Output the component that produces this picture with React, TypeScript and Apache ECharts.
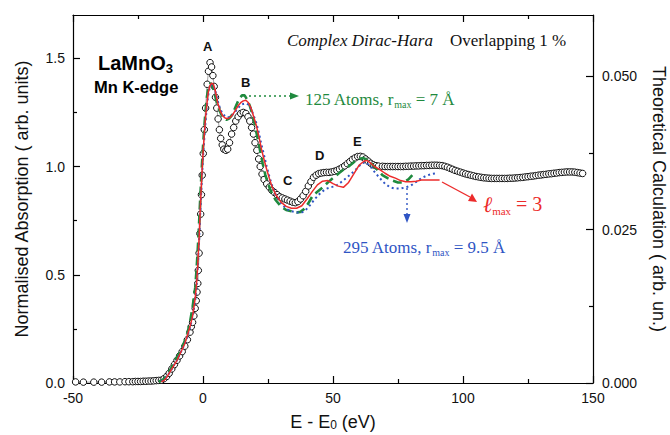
import React, { useEffect, useRef } from "react";
import * as echarts from "echarts";

// Experimental spectrum (E - E0 in eV, normalised absorption)
const expData: [number, number][] = [
  [-49, 0.005], [-46, 0.004], [-42, 0.004], [-39, 0.004], [-36, 0.005], [-34, 0.005], [-32, 0.005],
  [-30, 0.006], [-28.5, 0.006], [-27, 0.006], [-26, 0.007], [-25, 0.007], [-24, 0.007], [-23, 0.008],
  [-22, 0.008], [-21, 0.009], [-20, 0.009], [-19, 0.01], [-18, 0.011], [-17, 0.012], [-16, 0.013],
  [-15, 0.02], [-14, 0.03], [-13, 0.045], [-12, 0.065], [-11, 0.085], [-10, 0.105], [-9, 0.125],
  [-8, 0.145], [-7, 0.17], [-6, 0.2], [-5, 0.235], [-4.5, 0.26], [-4, 0.28], [-3.5, 0.31], [-3, 0.345],
  [-2.6, 0.38], [-2.3, 0.42], [-2, 0.46], [-1.8, 0.52], [-1.5, 0.6], [-1.2, 0.69], [-0.9, 0.78],
  [-0.6, 0.87], [-0.3, 0.96], [0.1, 1.06], [0.5, 1.17], [1, 1.27], [1.6, 1.38], [2.1, 1.44], [2.7, 1.48],
  [3.3, 1.46], [3.8, 1.42], [4.3, 1.37], [4.8, 1.32], [5.3, 1.27], [5.8, 1.22], [6.3, 1.17], [6.8, 1.13],
  [7.4, 1.1], [8, 1.08], [8.8, 1.075], [9.5, 1.08], [10.2, 1.11], [11, 1.15], [11.8, 1.18], [12.6, 1.21],
  [13.5, 1.23], [14.5, 1.245], [15.5, 1.25], [16.5, 1.245], [17.3, 1.23], [18, 1.21], [18.7, 1.18],
  [19.4, 1.15], [20, 1.11], [20.7, 1.075], [21.4, 1.035], [22, 1.0], [22.7, 0.965], [23.5, 0.94],
  [24.5, 0.92], [25.5, 0.905], [26.5, 0.89], [27.5, 0.88], [28.5, 0.87], [29.5, 0.86], [30.5, 0.855],
  [31.5, 0.85], [32.5, 0.845], [33.5, 0.84], [34.5, 0.835], [35.5, 0.833], [36.5, 0.838], [37.5, 0.85],
  [38.5, 0.865], [39.5, 0.885], [40.5, 0.91], [41.5, 0.93], [42.5, 0.95], [43.5, 0.96], [44.5, 0.967],
  [45.5, 0.97], [46.5, 0.972], [47.5, 0.973], [48.5, 0.973], [49.5, 0.975], [50.5, 0.978], [51.5, 0.982],
  [52.5, 0.988], [53.5, 0.995], [54.5, 1.003], [55.5, 1.013], [56.5, 1.023], [57.5, 1.033], [58.5, 1.04],
  [59.5, 1.046], [60.5, 1.047], [61.5, 1.044], [62.5, 1.035], [63.5, 1.025], [64.5, 1.015], [65.5, 1.008],
  [66.5, 1.004], [67.5, 1.002], [69, 1.001], [70, 1.0], [71, 1.0], [72, 1.0], [73, 1.0], [74, 1.0],
  [75, 1.0], [76, 1.0], [77, 1.0], [78, 1.001], [79, 1.001], [80, 1.002], [81, 1.002], [82, 1.003],
  [83, 1.003], [84, 1.004], [85, 1.004], [86, 1.005], [87, 1.005], [88, 1.006], [89, 1.006], [90, 1.006],
  [91, 1.005], [92, 1.004], [93, 1.001], [94, 0.997], [95, 0.992], [96, 0.987], [97, 0.982], [98, 0.978],
  [99, 0.974], [100, 0.97], [101, 0.966], [102, 0.963], [103, 0.96], [104, 0.957], [105, 0.954],
  [106, 0.952], [107, 0.95], [108, 0.948], [109, 0.947], [110, 0.946], [111, 0.945], [112, 0.945],
  [113, 0.945], [114, 0.945], [115, 0.945], [116, 0.945], [117, 0.945], [118, 0.946], [119, 0.946],
  [120, 0.947], [121, 0.948], [122, 0.949], [123, 0.95], [124, 0.952], [125, 0.953], [126, 0.955],
  [127, 0.956], [128, 0.958], [129, 0.96], [130, 0.961], [131, 0.963], [132, 0.964], [133, 0.966],
  [134, 0.967], [135, 0.969], [136, 0.97], [137, 0.972], [138, 0.973], [139, 0.974], [140, 0.975],
  [141, 0.975], [142, 0.975], [143, 0.974], [144, 0.972], [145, 0.97], [146, 0.968],
];

// Theoretical calculations (right axis units)
const redCalc: [number, number][] = [
  [-16, 0.0002], [-15, 0.0004], [-14, 0.0009], [-13, 0.0016], [-12, 0.0023], [-11, 0.003], [-10, 0.0037],
  [-9, 0.0046], [-8, 0.0055], [-7, 0.0064], [-6, 0.0078], [-5, 0.0092], [-4, 0.0109], [-3, 0.0138],
  [-2.4, 0.0166], [-2, 0.0194], [-1.5, 0.0237], [-1, 0.0289], [-0.5, 0.0335], [0, 0.0374], [0.5, 0.0406],
  [1, 0.0434], [1.5, 0.0455], [2, 0.0473], [2.6, 0.0484], [3.3, 0.0489], [4, 0.0487], [4.7, 0.0477],
  [5.5, 0.0459], [6.5, 0.0445], [7.5, 0.0436], [8.5, 0.0432], [9.5, 0.0431], [10.5, 0.0433], [11.5, 0.0438],
  [12.5, 0.0445], [13.5, 0.0452], [14.5, 0.0457], [15.5, 0.046], [16.5, 0.0461], [17.5, 0.0457],
  [18.5, 0.0448], [19.5, 0.0434], [20.5, 0.042], [21.5, 0.0402], [22.5, 0.0381], [23.5, 0.0364],
  [24.5, 0.0348], [25.5, 0.0334], [26.5, 0.0321], [28, 0.0307], [30, 0.0295], [32, 0.0288], [34, 0.0285],
  [36, 0.0285], [38, 0.0289], [40, 0.03], [42, 0.0312], [44, 0.0323], [46, 0.0329], [48, 0.033],
  [50, 0.0325], [52, 0.0321], [54, 0.0319], [56, 0.0327], [58, 0.0341], [60, 0.0355], [62, 0.0362],
  [63, 0.0363], [64, 0.036], [66, 0.0353], [68, 0.0348], [70, 0.0342], [72, 0.0337], [74, 0.0334],
  [76, 0.033], [78, 0.0328], [80, 0.0328], [82, 0.0329], [84, 0.0331], [86, 0.0331], [88, 0.0331],
  [90, 0.0331], [91, 0.0331],
];

const greenCalc: [number, number][] = [
  [-17, 0.0002], [-16, 0.0004], [-15, 0.0007], [-14, 0.0012], [-13, 0.0019], [-12, 0.0026], [-11, 0.0035],
  [-10, 0.0042], [-9, 0.0049], [-8, 0.0058], [-7, 0.0069], [-6, 0.0081], [-5, 0.0099], [-4, 0.0124],
  [-3, 0.0155], [-2.5, 0.0184], [-2, 0.0219], [-1.5, 0.0261], [-1, 0.0307], [-0.5, 0.0349], [0, 0.0385],
  [0.5, 0.0417], [1, 0.0445], [1.5, 0.0466], [2, 0.048], [2.5, 0.0487], [3, 0.0489], [3.5, 0.0485],
  [4.2, 0.0477], [5, 0.0462], [6, 0.0448], [7, 0.0438], [8, 0.0431], [9, 0.0429], [10, 0.0431],
  [11, 0.0436], [12, 0.0445], [13, 0.0455], [14, 0.0464], [15, 0.0469], [16, 0.0469], [17, 0.0462],
  [18, 0.0452], [19, 0.0438], [20, 0.042], [21, 0.0399], [22, 0.0378], [23, 0.0357], [24, 0.0339],
  [25, 0.0325], [26.5, 0.0309], [28, 0.0298], [30, 0.0288], [32, 0.0282], [34, 0.028], [36, 0.0278],
  [37.5, 0.0279], [39, 0.0284], [40.5, 0.0293], [42, 0.0304], [44, 0.0312], [46, 0.0319], [48, 0.0327],
  [50, 0.0334], [52, 0.0341], [54, 0.0348], [56, 0.0353], [58, 0.036], [60, 0.0365], [61.5, 0.0367],
  [63, 0.0364], [65, 0.0357], [67, 0.0348], [69, 0.0339], [71, 0.0334], [73, 0.033], [75, 0.0327],
  [77, 0.0327], [79, 0.0332], [80.5, 0.0339],
];

const blueCalc: [number, number][] = [
  [-16, 0.0003], [-15, 0.0005], [-14, 0.001], [-13, 0.0016], [-12, 0.0023], [-11, 0.003], [-10, 0.0037],
  [-9, 0.0046], [-8, 0.0055], [-7, 0.0064], [-6, 0.0076], [-5, 0.009], [-4, 0.0108], [-3, 0.0134],
  [-2.4, 0.0162], [-2, 0.0191], [-1.5, 0.0233], [-1, 0.0282], [-0.5, 0.0328], [0, 0.0367], [0.5, 0.0399],
  [1, 0.0427], [1.5, 0.0452], [2, 0.0469], [2.6, 0.0482], [3.3, 0.0487], [4, 0.0485], [4.7, 0.0477],
  [5.5, 0.0462], [6.5, 0.0448], [7.5, 0.0439], [8.5, 0.0435], [9.5, 0.0433], [10.5, 0.0434], [11.5, 0.0438],
  [12.5, 0.0443], [13.5, 0.0448], [14.5, 0.0453], [15.5, 0.0455], [16.5, 0.0456], [17.5, 0.0454],
  [18.5, 0.0447], [19.5, 0.0436], [20.5, 0.0424], [21.5, 0.0408], [22.5, 0.0388], [23.5, 0.0371],
  [24.5, 0.0353], [25.5, 0.0337], [26.5, 0.0323], [28, 0.0307], [30, 0.0293], [32, 0.0284], [34, 0.028],
  [36, 0.0278], [38, 0.0278], [39.5, 0.0282], [41, 0.0289], [43, 0.03], [45, 0.0309], [47, 0.0316],
  [49, 0.0319], [51, 0.0321], [53, 0.0327], [55, 0.0334], [57, 0.0341], [59, 0.0349], [61, 0.0358],
  [62.5, 0.036], [64, 0.0355], [66, 0.0344], [68, 0.0334], [70, 0.0325], [72, 0.0319], [74, 0.0317],
  [76, 0.0317], [78, 0.0319], [80, 0.0322], [82, 0.0328], [84, 0.0334], [86, 0.0338], [88, 0.0341],
  [90, 0.0342],
];

const leftTicks = [0, 0.5, 1.0, 1.5];
const leftMinorTicks = [0.25, 0.75, 1.25];
const rightTicks = [0, 0.025, 0.05];
const rightMinorTicks = [0.0125, 0.0375];

const SANS = '"Liberation Sans", Arial, sans-serif';
const SERIF = '"Liberation Serif", "Times New Roman", serif';
const RED = "#ec2b2b";
const GREEN = "#1f8a3e";
const BLUE = "#2f55c4";

function txt(text: string, x: number, y: number, style: any) {
  return {
    type: "text",
    x,
    y,
    z: 10,
    style: {
      text,
      align: "left",
      verticalAlign: "middle",
      textAlign: "left",
      textVerticalAlign: "middle",
      ...style,
    },
  };
}

function serifRich(color: string, size: number) {
  return {
    m: { fontSize: size, fontFamily: SERIF, fill: color, color, lineHeight: size + 4, verticalAlign: "middle" },
    s: { fontSize: 10, fontFamily: SERIF, fill: color, color, lineHeight: 10, verticalAlign: "bottom" },
  };
}

export default function App() {
  const ref = useRef<HTMLDivElement>(null);
  useEffect(() => {
    const chart = echarts.init(ref.current!, null, { renderer: "svg" });
    const axisLine = { show: true, onZero: false, lineStyle: { color: "#000", width: 1.2 } };
    const hiddenLine = { show: false, onZero: false };
    const tickStyle = { color: "#000", width: 1.2 };
    const labelStyle = { fontFamily: SANS, fontSize: 14, color: "#111" };
    const option: any = {
      animation: false,
      backgroundColor: "#fff",
      grid: { left: 73, right: 77, top: 15, bottom: 52, containLabel: false, outerBoundsMode: "none" },
      xAxis: [
        {
          type: "value",
          min: -50,
          max: 150,
          interval: 50,
          position: "bottom",
          axisLine,
          axisTick: { show: true, inside: true, length: 7, lineStyle: tickStyle },
          minorTick: { show: true, splitNumber: 2, length: 4, lineStyle: tickStyle },
          splitLine: { show: false },
          axisLabel: { ...labelStyle, margin: 8 },
          name: "E - E{s|0} (eV)",
          nameLocation: "middle",
          nameGap: 30,
          nameTextStyle: {
            fontFamily: SANS,
            fontSize: 18,
            color: "#111",
            lineHeight: 18,
            rich: { s: { fontFamily: SANS, fontSize: 12, color: "#111", lineHeight: 6, verticalAlign: "bottom" } },
          },
        },
        {
          type: "value",
          min: -50,
          max: 150,
          interval: 50,
          position: "top",
          axisLine,
          axisTick: { show: true, inside: true, length: 7, lineStyle: tickStyle },
          minorTick: { show: true, splitNumber: 2, length: 4, lineStyle: tickStyle },
          splitLine: { show: false },
          axisLabel: { show: false },
        },
      ],
      yAxis: [
        {
          type: "value",
          min: 0,
          max: 1.7,
          position: "left",
          axisLine,
          axisTick: { show: true, inside: true, length: 7, lineStyle: tickStyle, customValues: leftTicks },
          axisLabel: { ...labelStyle, margin: 8, customValues: leftTicks, formatter: (v: number) => v.toFixed(1) },
          splitLine: { show: false },
          name: "Normalised Absorption ( arb. units)",
          nameLocation: "middle",
          nameRotate: 90,
          nameGap: 42,
          nameTextStyle: { fontFamily: SANS, fontSize: 18, color: "#111" },
        },
        {
          type: "value",
          min: 0,
          max: 0.06,
          position: "right",
          axisLine,
          axisTick: { show: true, inside: true, length: 7, lineStyle: tickStyle, customValues: rightTicks },
          axisLabel: { ...labelStyle, margin: 9, customValues: rightTicks, formatter: (v: number) => v.toFixed(3) },
          splitLine: { show: false },
          name: "Theoretical Calculation ( arb. un.)",
          nameLocation: "middle",
          nameRotate: -90,
          nameGap: 57,
          nameTextStyle: { fontFamily: SANS, fontSize: 18, color: "#111" },
        },
        {
          type: "value",
          min: 0,
          max: 1.7,
          position: "left",
          axisLine: hiddenLine,
          axisTick: { show: true, inside: true, length: 4, lineStyle: tickStyle, customValues: leftMinorTicks },
          axisLabel: { show: false },
          splitLine: { show: false },
        },
        {
          type: "value",
          min: 0,
          max: 0.06,
          position: "right",
          axisLine: hiddenLine,
          axisTick: { show: true, inside: true, length: 4, lineStyle: tickStyle, customValues: rightMinorTicks },
          axisLabel: { show: false },
          splitLine: { show: false },
        },
      ],
      series: [
        {
          name: "Experiment",
          type: "line",
          xAxisIndex: 0,
          yAxisIndex: 0,
          data: expData,
          symbol: "circle",
          symbolSize: 6.5,
          showAllSymbol: true,
          lineStyle: { color: "#8a8a8a", width: 0.8 },
          itemStyle: { color: "#fff", borderColor: "#111", borderWidth: 1 },
          z: 2,
        },
        {
          name: "125 Atoms",
          type: "line",
          yAxisIndex: 1,
          data: greenCalc,
          showSymbol: false,
          lineStyle: { color: GREEN, width: 2.6, type: [9, 5] },
          z: 3,
        },
        {
          name: "295 Atoms",
          type: "line",
          yAxisIndex: 1,
          data: blueCalc,
          showSymbol: false,
          lineStyle: { color: BLUE, width: 2, type: [2, 3] },
          z: 4,
        },
        {
          name: "lmax 3",
          type: "line",
          yAxisIndex: 1,
          data: redCalc,
          showSymbol: false,
          lineStyle: { color: RED, width: 1.5 },
          z: 5,
        },
      ],
      graphic: [
        txt("A", 203, 46, { font: `bold 13px ${SANS}`, fill: "#111" }),
        txt("B", 241, 82, { font: `bold 13px ${SANS}`, fill: "#111" }),
        txt("C", 283, 180, { font: `bold 13px ${SANS}`, fill: "#111" }),
        txt("D", 315, 155, { font: `bold 13px ${SANS}`, fill: "#111" }),
        txt("E", 353, 141, { font: `bold 13px ${SANS}`, fill: "#111" }),
        txt("{m|LaMnO}{s|3}", 98, 63, {
          rich: {
            m: { fontSize: 20, fontWeight: "bold", fontFamily: SANS, fill: "#000", lineHeight: 24, verticalAlign: "middle" },
            s: { fontSize: 13, fontWeight: "bold", fontFamily: SANS, fill: "#000", lineHeight: 12, verticalAlign: "bottom" },
          },
        }),
        txt("Mn K-edge", 94, 87, { font: `bold 16.5px ${SANS}`, fill: "#000" }),
        txt("Complex Dirac-Hara", 287, 40, { font: `italic 17px ${SERIF}`, fill: "#111" }),
        txt("Overlapping 1 %", 450, 40, { font: `17px ${SERIF}`, fill: "#111" }),
        txt("{m|125 Atoms, r}{s|max}{m| = 7 Å}", 305, 99, { rich: serifRich(GREEN, 17) }),
        txt("{m|295 Atoms, r}{s|max}{m| = 9.5 Å}", 343, 247, { rich: serifRich(BLUE, 17) }),
        txt("{l|ℓ}{s|max}{m| = 3}", 483, 204, {
          rich: {
            l: { fontSize: 22, fontFamily: SERIF, fontStyle: "italic", fill: RED, lineHeight: 24, verticalAlign: "middle" },
            m: { fontSize: 20, fontFamily: SERIF, fill: RED, lineHeight: 24, verticalAlign: "middle" },
            s: { fontSize: 11, fontFamily: SERIF, fill: RED, lineHeight: 10, verticalAlign: "bottom" },
          },
        }),
        // green dotted arrow
        { type: "line", z: 10, shape: { x1: 249, y1: 96, x2: 291, y2: 96 }, style: { stroke: GREEN, lineWidth: 1.4, lineDash: [2, 3] } },
        { type: "polygon", z: 10, shape: { points: [[290, 92.5], [299, 96], [290, 99.5]] }, style: { fill: GREEN } },
        // blue dotted arrow
        { type: "line", z: 10, shape: { x1: 407, y1: 188, x2: 407, y2: 215 }, style: { stroke: BLUE, lineWidth: 1.4, lineDash: [2, 3] } },
        { type: "polygon", z: 10, shape: { points: [[403.5, 214], [407, 223], [410.5, 214]] }, style: { fill: BLUE } },
        // red arrow
        { type: "line", z: 10, shape: { x1: 442, y1: 182, x2: 470, y2: 197 }, style: { stroke: RED, lineWidth: 1.4 } },
        { type: "polygon", z: 10, shape: { points: [[468, 201], [477, 202], [472, 193.5]] }, style: { fill: RED } },
      ],
    };
    chart.setOption(option);
    return () => chart.dispose();
  }, []);
  return (
    <div
      ref={ref}
      style={{ position: "fixed", left: 0, top: 0, width: 670, height: 435, background: "#fff" }}
    />
  );
}
